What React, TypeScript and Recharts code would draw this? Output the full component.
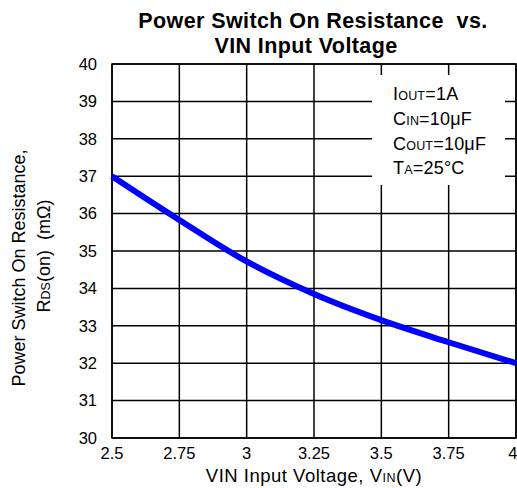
import React from 'react';
import { LineChart, Line, XAxis, YAxis, CartesianGrid, ReferenceArea } from 'recharts';

const vin = [2.5, 2.75, 3, 3.25, 3.5, 3.75, 4];
const rdsOn = [37, 35.83, 34.72, 33.85, 33.15, 32.56, 32];
const xTicks = [2.5, 2.75, 3, 3.25, 3.5, 3.75, 4];
const yTicks = [30, 31, 32, 33, 34, 35, 36, 37, 38, 39, 40];

const data = vin.map((v, i) => ({ vin: v, rds: rdsOn[i] }));

const FONT = '"Liberation Sans", Arial, sans-serif';
const W = 517;
const H = 488;
// axis width/height add on top of the margin
const margin = { top: 64, right: 1, bottom: 0, left: 0 };

export default function App() {
  return (
    <div style={{ position: 'absolute', left: 0, top: 0, width: W, height: H, background: '#fff', fontFamily: FONT }}>
      <LineChart width={W} height={H} data={data} margin={margin}>
        <CartesianGrid stroke="#000" strokeWidth={1.5} />
        <XAxis
          dataKey="vin"
          type="number"
          domain={[2.5, 4]}
          ticks={xTicks}
          axisLine={false}
          tickLine={false}
          tickMargin={3}
          height={50}
          tick={{ fill: '#000', fontSize: 16.5, fontFamily: FONT }}
        />
        <YAxis
          type="number"
          domain={[30, 40]}
          ticks={yTicks}
          axisLine={false}
          tickLine={false}
          tickMargin={9}
          width={112}
          tick={{ fill: '#000', fontSize: 16.5, fontFamily: FONT }}
        />
        <ReferenceArea x1={2.5} x2={4} y1={30} y2={40} fill="none" stroke="#000" strokeWidth={1.5} ifOverflow="visible" />
        <Line
          dataKey="rds"
          type="monotone"
          stroke="#0000FF"
          strokeWidth={6}
          dot={false}
          isAnimationActive={false}
        />
      </LineChart>
      <svg width={W} height={H} style={{ position: 'absolute', left: 0, top: 0, pointerEvents: 'none' }} fontFamily={FONT}>
        <g fontSize={21.5} fontWeight="bold" letterSpacing={0.4} textAnchor="middle">
          <text x={313} y={28}>{'Power Switch On Resistance\u00a0\u00a0vs.'}</text>
          <text x={306} y={53}>VIN Input Voltage</text>
        </g>
        <rect x={372} y={75} width={133} height={110} fill="#fff" />
        <g fontSize={18} letterSpacing={0.2}>
          <text x={393} y={100}>I<tspan fontSize={12.5}>OUT</tspan>=1A</text>
          <text x={393} y={125}>C<tspan fontSize={12.5}>IN</tspan>=10μF</text>
          <text x={393} y={150}>C<tspan fontSize={12.5}>OUT</tspan>=10μF</text>
          <text x={393} y={174}>T<tspan fontSize={12.5}>A</tspan>=25°C</text>
        </g>
        <text x={314} y={482} textAnchor="middle" fontSize={18.5} letterSpacing={0.5}>VIN Input Voltage, V<tspan fontSize={12.5}>IN</tspan>(V)</text>
        <text transform="translate(25,268) rotate(-90)" textAnchor="middle" fontSize={18}>Power Switch On Resistance,</text>
        <text transform="translate(50,256) rotate(-90)" textAnchor="middle" fontSize={18}>R<tspan fontSize={12.5}>DS</tspan>{'(on)\u00a0\u00a0(mΩ)'}</text>
      </svg>
    </div>
  );
}
